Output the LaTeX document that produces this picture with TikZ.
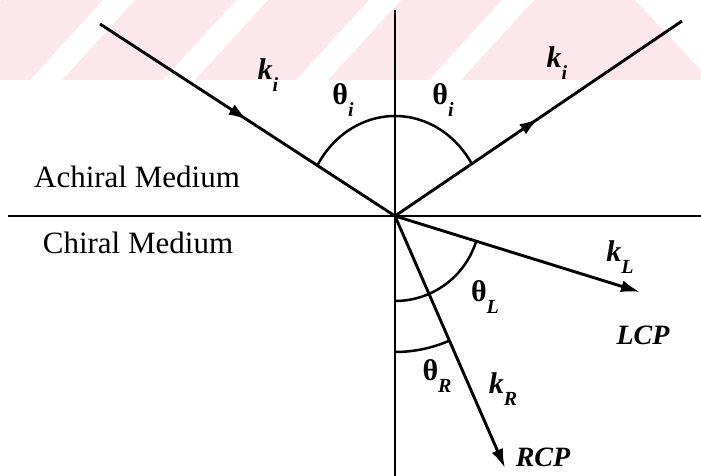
\documentclass[tikz,border=0pt]{standalone}
\usepackage{fontspec}
\setmainfont{Liberation Serif}
\usetikzlibrary{arrows.meta,decorations.markings}

\definecolor{wmpink}{RGB}{252,232,236}
\newcommand{\sub}[1]{\raisebox{-0.42em}{\fontsize{20}{22}\selectfont #1}}

\begin{document}
\begin{tikzpicture}[x=1pt, y=1pt,
  ray/.style={line width=2.9pt},
  tip/.style={-{Latex[length=19pt, width=12pt]}},
  midarrow/.style={postaction={decorate}, decoration={markings,
    mark=at position 0.5 with {\arrow{Latex[length=19pt, width=12pt]}}}},
  angarc/.style={line width=2.5pt},
  lbl/.style={font=\fontsize{30}{32}\selectfont\bfseries\itshape, inner sep=0pt},
  cp/.style={font=\fontsize{28}{30}\selectfont\bfseries\itshape, inner sep=0pt},
  medium/.style={font=\fontsize{31}{34}\selectfont, inner sep=0pt}]
\useasboundingbox (-395,-260) rectangle (306,216);
% faint watermark band at the top
\fill[wmpink] (-395,136) rectangle (306,216);
\foreach \i in {-1,...,3}
  \fill[white] ({-292+133*\i},216) -- ++(32,0) -- ++(-73,-80) -- ++(-32,0) -- cycle;
\fill[white] (240,216) -- (306,216) -- (306,146) -- cycle;
% axes and rays
\coordinate (O) at (0,0);
\coordinate (top) at (0,206);
\coordinate (bot) at (0,-260);
\coordinate (west) at (-387,0);
\coordinate (east) at (306,0);
\coordinate (inc) at (-295,192);
\coordinate (refl) at (287,195);
\coordinate (kl) at (245,-76);
\coordinate (kr) at (110,-252);
\draw[line width=2.6pt] (top) -- (bot);
\draw[line width=2.6pt] (west) -- (east);
\draw[ray, midarrow] (inc) -- (O);
\draw[ray, midarrow] (O) -- (refl);
\draw[ray, tip] (O) -- (kl);
\draw[ray, tip] (O) -- (kr);
% angle arcs
\draw[angarc] (149.7:90 and 100) arc[start angle=149.7, end angle=31.5, x radius=90, y radius=100];
\draw[angarc] (270:85) arc[start angle=270, end angle=342.8, radius=85];
\draw[angarc] (270:136) arc[start angle=270, end angle=293.6, radius=136];
% labels
\node[lbl] (kiin) at (-127,141) {k\sub{i}};
\node[lbl] (thin) at (-52,116) {{\upshape θ}\sub{i}};
\node[lbl] (thout) at (48,116) {{\upshape θ}\sub{i}};
\node[lbl] (kiout) at (162,153) {k\sub{i}};
\node[medium] (achiral) at (-258,39) {Achiral Medium};
\node[medium] (chiral) at (-257,-27) {Chiral Medium};
\node[lbl] (kL) at (225,-41) {k\sub{L}};
\node[cp] (lcp) at (248,-119) {LCP};
\node[lbl] (thL) at (90,-81) {{\upshape θ}\sub{L}};
\node[lbl] (thR) at (42,-160) {{\upshape θ}\sub{R}};
\node[lbl] (kR) at (108,-173) {k\sub{R}};
\node[cp] (rcp) at (148,-241) {RCP};
\end{tikzpicture}
\end{document}
